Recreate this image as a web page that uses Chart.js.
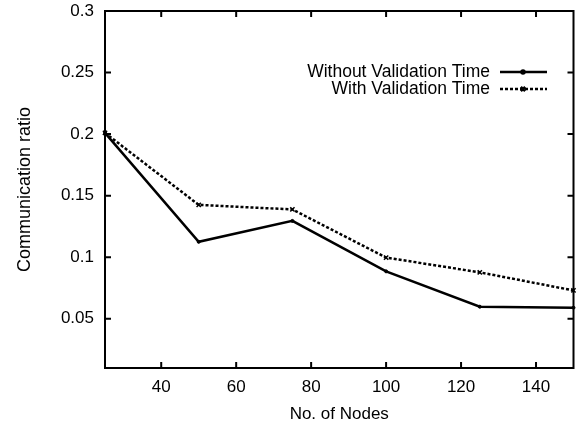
<!DOCTYPE html>
<html>
<head>
<meta charset="utf-8">
<script src="https://cdn.jsdelivr.net/npm/chart.js@4/dist/chart.umd.min.js"></script>
<style>
  html, body { margin: 0; padding: 0; background: #fff; }
  #wrap { width: 579px; height: 425px; }
</style>
</head>
<body>
<div id="wrap"><canvas id="c"></canvas></div>
<script>
var nodes = [25, 50, 75, 100, 125, 150];
var withoutValidation = [0.201, 0.1125, 0.1295, 0.0885, 0.0598, 0.059];
var withValidation = [0.201, 0.1425, 0.1388, 0.0997, 0.0877, 0.073];
var xTicks = [40, 60, 80, 100, 120, 140];
var yTicks = [0.05, 0.1, 0.15, 0.2, 0.25, 0.3];
var seriesNames = ['Without Validation Time', 'With Validation Time'];
var yTitle = 'Communication ratio';

var font = "'Liberation Sans', Arial, sans-serif";

function pts(vals) {
    return nodes.map(function (n, i) { return { x: n, y: vals[i] }; });
}

// gnuplot style box with inward ticks on every side
var framePlugin = {
    id: 'frame',
    afterDraw: function (chart) {
        var ctx = chart.ctx, a = chart.chartArea;
        var xs = chart.scales.x, ys = chart.scales.y;
        ctx.save();
        ctx.strokeStyle = '#000';
        ctx.lineWidth = 2;
        ctx.strokeRect(a.left, a.top, a.right - a.left, a.bottom - a.top);
        ctx.beginPath();
        xTicks.forEach(function (v) {
            var px = xs.getPixelForValue(v);
            ctx.moveTo(px, a.bottom); ctx.lineTo(px, a.bottom - 6);
            ctx.moveTo(px, a.top); ctx.lineTo(px, a.top + 6);
        });
        yTicks.forEach(function (v) {
            var py = ys.getPixelForValue(v);
            ctx.moveTo(a.left, py); ctx.lineTo(a.left + 6, py);
            ctx.moveTo(a.right, py); ctx.lineTo(a.right - 6, py);
        });
        ctx.stroke();

        // rotated y title
        ctx.font = '18px ' + font;
        ctx.fillStyle = '#000';
        ctx.textAlign = 'center';
        ctx.textBaseline = 'alphabetic';
        ctx.translate(30, (a.top + a.bottom) / 2);
        ctx.rotate(-Math.PI / 2);
        ctx.fillText(yTitle, 0, 0);
        ctx.restore();
    }
};

// legend: text on the left, line sample on the right
var keyPlugin = {
    id: 'key',
    afterDraw: function (chart) {
        var ctx = chart.ctx;
        ctx.save();
        ctx.font = '17.5px ' + font;
        ctx.fillStyle = '#000';
        ctx.textAlign = 'right';
        ctx.textBaseline = 'middle';
        chart.data.datasets.forEach(function (ds, i) {
            var y = 72 + i * 17;
            ctx.fillText(ds.label, 490, y);
            ctx.strokeStyle = '#000';
            ctx.lineWidth = ds.borderWidth;
            ctx.setLineDash(ds.borderDash || []);
            ctx.beginPath();
            ctx.moveTo(500, y); ctx.lineTo(547, y);
            ctx.stroke();
            ctx.setLineDash([]);
            Chart.helpers.drawPoint(ctx, {
                pointStyle: ds.pointStyle, radius: ds.pointRadius,
                borderWidth: 2
            }, 523, y);
        });
        ctx.restore();
    }
};

new Chart(document.getElementById('c'), {
    type: 'scatter',
    data: {
        datasets: [{
            label: seriesNames[0],
            data: pts(withoutValidation),
            showLine: true,
            borderColor: '#000',
            backgroundColor: '#000',
            borderWidth: 2.5,
            pointStyle: 'circle',
            pointRadius: 1.5,
            pointBorderWidth: 1,
            clip: false
        }, {
            label: seriesNames[1],
            data: pts(withValidation),
            showLine: true,
            borderColor: '#000',
            backgroundColor: '#000',
            borderWidth: 2.5,
            borderDash: [3, 2],
            pointStyle: 'crossRot',
            pointRadius: 3,
            pointBorderWidth: 1.5,
            clip: false
        }]
    },
    options: {
        responsive: true,
        maintainAspectRatio: false,
        animation: false,
        layout: { padding: { top: 11, right: 4, left: 0, bottom: 0 } },
        plugins: { legend: { display: false }, tooltip: { enabled: false } },
        scales: {
            x: {
                type: 'linear', min: 25, max: 150,
                afterBuildTicks: function (s) { s.ticks = xTicks.map(function (v) { return { value: v }; }); },
                afterFit: function (s) { s.height = 57; s.paddingLeft = 0; s.paddingRight = 0; },
                grid: { display: false, drawTicks: false },
                border: { display: false },
                ticks: { color: '#000', font: { family: font, size: 17 }, padding: 9, maxRotation: 0,
                    callback: function (v) { return String(v); } },
                title: { display: true, text: 'No. of Nodes', color: '#000', font: { family: font, size: 17 }, padding: { top: 0, bottom: 0 } }
            },
            y: {
                type: 'linear', min: 0.01, max: 0.3,
                afterBuildTicks: function (s) { s.ticks = yTicks.map(function (v) { return { value: v }; }); },
                afterFit: function (s) { s.width = 105; s.paddingTop = 0; s.paddingBottom = 0; },
                grid: { display: false, drawTicks: false },
                border: { display: false },
                ticks: { color: '#000', font: { family: font, size: 17 }, padding: 11,
                    callback: function (v) { return String(v); } }
            }
        }
    },
    plugins: [framePlugin, keyPlugin]
});
</script>
</body>
</html>
